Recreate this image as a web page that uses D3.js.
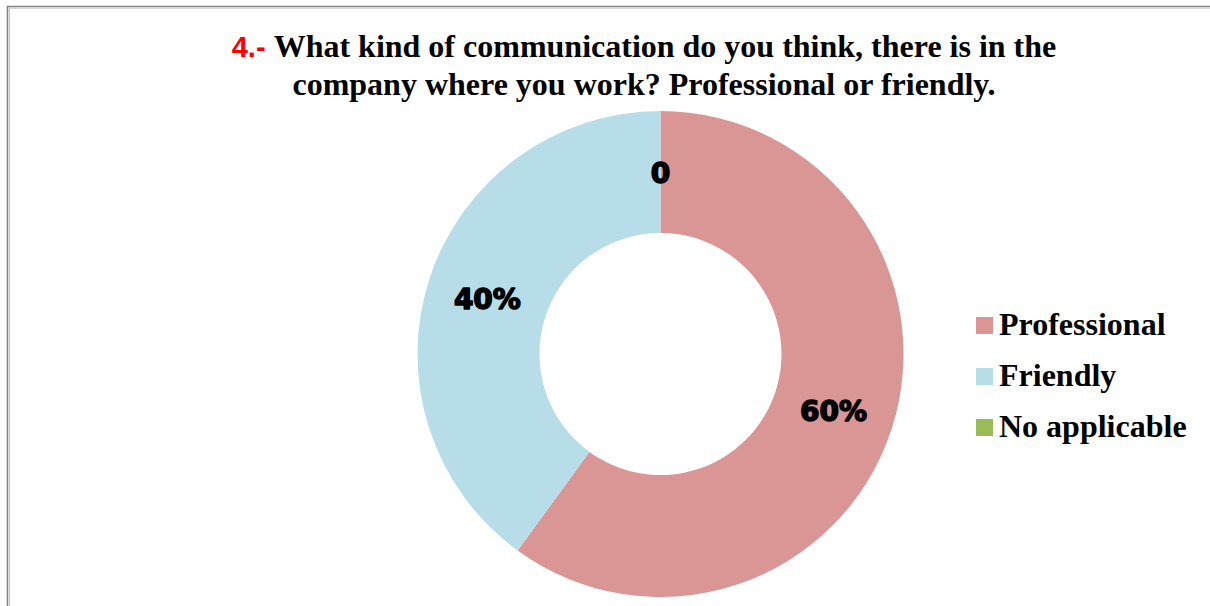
<!DOCTYPE html>
<html>
<head>
<meta charset="utf-8">
<script src="https://cdn.jsdelivr.net/npm/d3@7"></script>
<style>
  html, body { margin: 0; padding: 0; background: #ffffff; }
  svg { display: block; }
</style>
</head>
<body>
<svg id="chart" width="1210" height="606"></svg>
<script>
// Survey answers, question 4
const categories = ["Professional", "Friendly", "No applicable"];
const shares = [60, 40, 0];
const labels = ["60%", "40%", "0"];
const colors = ["#D99694", "#B7DEE8", "#9BBB59"];

const titleNumber = "4.-";
const titleLines = [
  "What kind of communication do you think, there is in the",
  "company where you work? Professional or friendly."
];

const W = 1210, H = 606;
const svg = d3.select("#chart");

// Chart frame (only top and left edges fall inside the view)
svg.append("rect").attr("x", 0).attr("y", 0).attr("width", W).attr("height", H).attr("fill", "#ffffff");
const frame = svg.append("g");
frame.append("path").attr("d", `M7.5,${H} V6.5 H${W}`).attr("fill", "none").attr("stroke", "#858585").attr("stroke-width", 1.6);
frame.append("path").attr("d", `M9.5,${H} V8.2 H${W}`).attr("fill", "none").attr("stroke", "#c8c8c8").attr("stroke-width", 1);

// Title
const title = svg.append("text")
  .attr("text-anchor", "middle")
  .attr("font-family", "'Liberation Serif', 'Times New Roman', serif")
  .attr("font-weight", "bold")
  .attr("font-size", 32)
  .attr("fill", "#000");
const l1 = title.append("tspan").attr("x", 644).attr("y", 57);
l1.append("tspan")
  .attr("font-family", "'Liberation Sans', Arial, sans-serif")
  .attr("font-size", 29)
  .attr("fill", "#ff0000")
  .text(titleNumber + " ");
l1.append("tspan").text(titleLines[0]);
title.append("tspan").attr("x", 644).attr("y", 95).text(titleLines[1]);

// Donut
const cx = 660.5, cy = 354, rOuter = 243, rInner = 121;
const data = categories.map((c, i) => ({ name: c, value: shares[i], label: labels[i], color: colors[i] }));

const pie = d3.pie().sort(null).value(d => d.value);
const arc = d3.arc().innerRadius(rInner).outerRadius(rOuter);
const labelArc = d3.arc().innerRadius((rInner + rOuter) / 2).outerRadius((rInner + rOuter) / 2);

const g = svg.append("g").attr("transform", `translate(${cx},${cy})`);
const arcs = pie(data);

g.selectAll("path.slice")
  .data(arcs)
  .join("path")
  .attr("class", "slice")
  .attr("d", arc)
  .attr("fill", d => d.data.color);

g.selectAll("text.value")
  .data(arcs)
  .join("text")
  .attr("class", "value")
  .attr("transform", d => {
    const [x, y] = labelArc.centroid(d);
    return `translate(${x},${y + 1.5})`;
  })
  .attr("text-anchor", "middle")
  .attr("dominant-baseline", "central")
  .attr("font-family", "'DejaVu Sans', sans-serif")
  .attr("font-weight", "bold")
  .attr("font-size", 28)
  .attr("fill", "#000")
  .attr("stroke", "#000")
  .attr("stroke-width", 1.5)
  .attr("stroke-linejoin", "round")
  .text(d => d.data.label);

// Legend
const legend = svg.append("g").attr("transform", "translate(976,317)");
const item = legend.selectAll("g.item")
  .data(data)
  .join("g")
  .attr("class", "item")
  .attr("transform", (d, i) => `translate(0,${i * 51})`);
item.append("rect")
  .attr("width", 17).attr("height", 17)
  .attr("fill", d => d.color);
item.append("text")
  .attr("x", 23).attr("y", 18)
  .attr("font-family", "'Liberation Serif', 'Times New Roman', serif")
  .attr("font-weight", "bold")
  .attr("font-size", 32)
  .attr("fill", "#000")
  .text(d => d.name);
</script>
</body>
</html>
